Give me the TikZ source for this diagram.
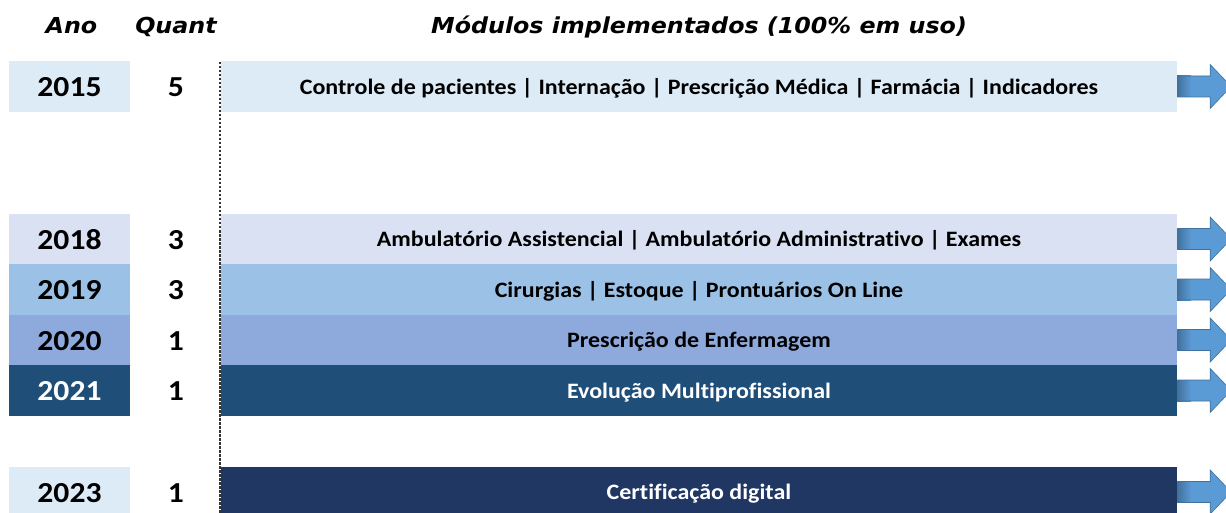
\documentclass[tikz,border=0pt]{standalone}
\usepackage{fontspec}
\setmainfont{Carlito}[FakeStretch=1.09, Ligatures={NoCommon,NoRequired,NoContextual}]
\newfontfamily\headfont{DejaVu Sans}[FakeStretch=1.08]

\definecolor{bgA}{HTML}{DDEBF7}
\definecolor{bgB}{HTML}{D9E1F2}
\definecolor{bgC}{HTML}{9BC2E6}
\definecolor{bgD}{HTML}{8EA9DB}
\definecolor{bgE}{HTML}{1F4E78}
\definecolor{bgF}{HTML}{203764}
\definecolor{arrowblue}{HTML}{5B9BD5}
\definecolor{arrowdark}{HTML}{41719C}

\tikzset{
    cell/.style={inner sep=0pt, minimum height=50.5pt, text height=20pt, text depth=0pt,
        font=\bfseries\fontsize{29}{29}\selectfont},
    yearcell/.style={cell, minimum width=121pt},
    modcell/.style={inner sep=0pt, minimum height=50.5pt, minimum width=956pt, text height=15.6pt, text depth=0pt,
        font=\bfseries\fontsize{22}{22}\selectfont},
    header/.style={anchor=base, inner sep=0pt, font=\headfont\bfseries\itshape\fontsize{22}{22}\selectfont},
}

\begin{document}
\begin{tikzpicture}[x=1pt,y=-1pt]
    \useasboundingbox (0,0) rectangle (1226,513);
    \clip (0,0) rectangle (1226,513);

    \def \xyear {70.5}
    \def \xquant {176}
    \def \xmod {699}

    % column headers
    \node[header] (hano) at (\xyear+1,33.5) {Ano};
    \node[header] (hquant) at (\xquant,33.5) {Quant};
    \node[header] (hmod) at (\xmod,33.5) {Módulos implementados (100\% em uso)};

    \foreach \yr/\qt/\ybg/\yfg/\mbg/\mfg/\ypos/\mods in {%
        2015/5/bgA/black/bgA/black/86.5/Controle de pacientes | Internação | Prescrição Médica | Farmácia | Indicadores,
        2018/3/bgB/black/bgB/black/239/Ambulatório Assistencial | Ambulatório Administrativo | Exames,
        2019/3/bgC/black/bgC/black/289.5/Cirurgias | Estoque | Prontuários On Line,
        2020/1/bgD/black/bgD/black/340/Prescrição de Enfermagem,
        2021/1/bgE/white/bgE/white/390.5/Evolução Multiprofissional,
        2023/1/bgA/black/bgF/white/492/Certificação digital}
    {
        \node[yearcell, fill=\ybg, text=\yfg] (Y\yr) at (\xyear-1,\ypos) {\yr};
        \node[cell] (Q\yr) at (\xquant,\ypos) {\qt};
        \node[modcell, fill=\mbg, text=\mfg] (M\yr) at (\xmod,\ypos) {\mods};
        % arrow leaving the bar
        \fill[arrowblue] (M\yr.east) ++(0,-10.5) -- ++(33,0) -- ++(0,-11.5) -- ++(21,22)
            -- ++(-21,22) -- ++(0,-11.5) -- ++(-33,0) -- cycle;
        \shade[left color=arrowdark, right color=arrowblue] (M\yr.east) ++(0,-10.5) rectangle ++(14,21);
        \draw[arrowdark, line width=0.6pt] (M\yr.east) ++(0,-10.5) -- ++(33,0) -- ++(0,-11.5) -- ++(21,22)
            -- ++(-21,22) -- ++(0,-11.5) -- ++(-33,0);
    }

    % dashed separator
    \coordinate (dtop) at (220,62);
    \coordinate (dbot) at (220,513);
    \draw[black!80, line width=1.1pt, dash pattern=on 2.5pt off 1.5pt] (dtop) -- (dbot);

\end{tikzpicture}
\end{document}
